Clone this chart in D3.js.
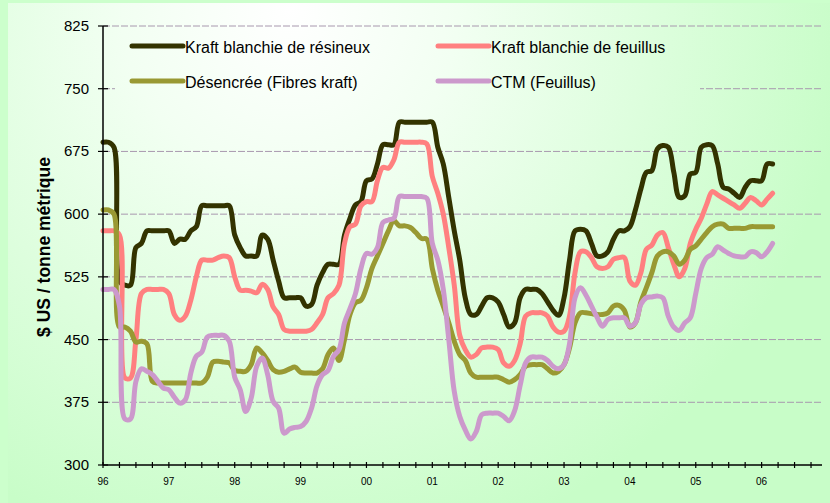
<!DOCTYPE html>
<html>
<head>
<meta charset="utf-8">
<script src="https://cdn.jsdelivr.net/npm/d3@7"></script>
<style>
  body { margin: 0; background: #ccffcc; }
  svg { display: block; font-family: "Liberation Sans", Arial, sans-serif; }
</style>
</head>
<body>
<svg width="830" height="503"></svg>
<script>
// monthly prices, Jan 1996 -> Mar 2006 ($ US / tonne)
const yearLabels = ["96", "97", "98", "99", "00", "01", "02", "03", "04", "05", "06"];
const yTicks = [300, 375, 450, 525, 600, 675, 750, 825];

const resineux = [
  686, 686, 680, 520, 515, 515, 560, 565, 580, 580,
  580, 580, 580, 565, 570, 570, 580, 585, 610, 610,
  610, 610, 610, 610, 575, 560, 550, 550, 550, 575,
  570, 545, 520, 500, 500, 500, 500, 490, 492, 515,
  530, 540, 540, 540, 575, 595, 611, 615, 640, 642,
  660, 683, 683, 683, 710, 710, 710, 710, 710, 710,
  710, 680, 660, 620, 580, 545, 500, 480, 480, 490,
  500, 500, 495, 480, 465, 470, 500, 510, 510, 510,
  505, 495, 485, 479, 500, 545, 580, 582, 580, 565,
  550, 550, 555, 570, 580, 580, 585, 605, 630, 650,
  652, 678, 682, 680, 650, 620, 622, 648, 650, 680,
  683, 682, 660, 632, 630, 625, 620, 632, 640, 640,
  640, 660, 660
];
const feuillus = [
  580, 580, 580, 575, 404, 404, 450, 505, 510, 510,
  510, 510, 505, 480, 473, 478, 497, 525, 545, 545,
  545, 548, 550, 548, 525, 509, 509, 508, 506, 516,
  510, 489, 480, 462, 460, 460, 460, 460, 462, 470,
  480, 500, 505, 515, 565, 585, 588, 610, 615, 615,
  640, 656, 655, 665, 686, 686, 686, 686, 686, 684,
  645, 625, 600, 560, 515, 455, 438, 429, 432, 440,
  441, 441, 438, 422, 418, 425, 445, 478, 482, 482,
  482, 478, 465, 459, 460, 478, 530, 555, 555, 548,
  537, 535, 537, 546, 548, 548, 520, 515, 530, 558,
  563, 575, 578, 560, 540, 525, 535, 565, 582, 595,
  612, 627, 623, 619, 615, 611, 607, 613, 620, 616,
  611, 618, 625
];
const desencree = [
  605, 605, 600, 465, 465, 460, 447, 448, 445, 400,
  398, 398, 398, 398, 398, 398, 398, 398, 398, 405,
  423, 424, 423, 422, 413, 412, 412, 420, 440, 434,
  425, 414, 411, 412, 415, 417, 411, 410, 410, 410,
  415, 432, 440, 425, 450, 480, 494, 497, 512, 535,
  550, 565, 580, 592, 586, 586, 584, 578, 571, 570,
  535, 509, 490, 470, 448, 432, 425, 410, 405, 405,
  405, 405, 405, 402, 399, 402, 408, 418, 420, 420,
  420, 415, 410, 412, 420, 440, 470, 482, 482, 481,
  480, 480, 482, 490, 491, 485, 465, 470, 495, 512,
  530, 550, 555, 555, 550, 540, 545, 558, 562, 570,
  578, 585, 588, 588, 583, 583, 583, 583, 585, 585,
  585, 585, 585
];
const ctm = [
  510, 510, 510, 490, 355, 355, 400, 415, 412, 408,
  400, 392, 390, 381, 374, 378, 410, 430, 435, 453,
  455, 455, 455, 448, 405, 390, 364, 380, 418, 428,
  408, 376, 368, 338, 343, 345, 346, 352, 368, 395,
  408, 413, 430, 438, 470, 487, 505, 535, 553, 552,
  560, 590, 593, 595, 621, 621, 621, 621, 621, 619,
  565, 545, 510, 450, 388, 358, 342, 331, 340, 360,
  362, 362, 362, 358, 353, 365, 395, 422, 429, 429,
  429, 425, 418, 415, 420, 445, 500, 512, 503, 490,
  477, 466, 474, 476, 476, 476, 466, 470, 492, 500,
  501, 502, 500, 478, 465, 461, 470, 476, 505, 535,
  548, 552, 561, 557, 553, 550, 549, 549, 555, 554,
  549, 555, 565
];

const seriesNames = ["Kraft blanchie de résineux", "Kraft blanchie de feuillus", "Désencrée (Fibres kraft)", "CTM (Feuillus)"];
const seriesColors = ["#333300", "#ff8080", "#999933", "#cc99cc"];
const seriesValues = [resineux, feuillus, desencree, ctm];

const svg = d3.select("svg");
const margin = { left: 103, top: 26, right: 822, bottom: 465 };

// background gradient
const defs = svg.append("defs");
const grad = defs.append("radialGradient")
  .attr("id", "bg")
  .attr("gradientUnits", "userSpaceOnUse")
  .attr("cx", 290).attr("cy", 10).attr("r", 560);
grad.append("stop").attr("offset", "0%").attr("stop-color", "#ffffff");
grad.append("stop").attr("offset", "30%").attr("stop-color", "#f2fff2");
grad.append("stop").attr("offset", "100%").attr("stop-color", "#c8fdc8");

svg.append("rect").attr("width", 830).attr("height", 503).attr("fill", "#ccffcc");
svg.append("rect")
  .attr("x", 8).attr("y", 3)
  .attr("width", 822).attr("height", 500)
  .attr("fill", "url(#bg)");

const x = d3.scaleLinear().domain([0, 131]).range([margin.left, margin.right]);
const y = d3.scaleLinear().domain([300, 825]).range([margin.bottom, margin.top]);

// gridlines
svg.append("g")
  .selectAll("line")
  .data(yTicks.filter(d => d > 300))
  .join("line")
  .attr("x1", margin.left)
  .attr("x2", margin.right)
  .attr("y1", d => y(d))
  .attr("y2", d => y(d))
  .attr("stroke", "#a898ae")
  .attr("stroke-width", 1)
  .attr("stroke-dasharray", "7,2");

// legend box hides the gridline behind it
svg.append("rect")
  .attr("x", 115).attr("y", 33)
  .attr("width", 585).attr("height", 66)
  .attr("fill", "url(#bg)");

// series lines
const line = d3.line()
  .x((d, i) => x(i))
  .y(d => y(d))
  .curve(d3.curveCatmullRom.alpha(0.5));

svg.append("g")
  .selectAll("path")
  .data(seriesValues)
  .join("path")
  .attr("d", d => line(d))
  .attr("fill", "none")
  .attr("stroke", (d, i) => seriesColors[i])
  .attr("stroke-width", 5)
  .attr("stroke-linejoin", "round")
  .attr("stroke-linecap", "round");

// y axis
const yAxis = svg.append("g").attr("stroke", "#000");
yAxis.append("line")
  .attr("x1", margin.left).attr("x2", margin.left)
  .attr("y1", y(825)).attr("y2", y(300))
  .attr("stroke-width", 1.5);
yAxis.selectAll("line.tick")
  .data(yTicks)
  .join("line")
  .attr("class", "tick")
  .attr("x1", margin.left - 5).attr("x2", margin.left + 5)
  .attr("y1", d => y(d)).attr("y2", d => y(d))
  .attr("stroke-width", 1.2);
svg.append("g")
  .selectAll("text")
  .data(yTicks)
  .join("text")
  .attr("x", 89)
  .attr("y", d => y(d) + 5)
  .attr("text-anchor", "end")
  .attr("font-size", 15)
  .attr("fill", "#000")
  .text(d => d);

// x axis
const xAxis = svg.append("g").attr("stroke", "#000");
xAxis.append("line")
  .attr("x1", margin.left).attr("x2", margin.right)
  .attr("y1", margin.bottom).attr("y2", margin.bottom)
  .attr("stroke-width", 1.5);
xAxis.selectAll("line.tick")
  .data(d3.range(0, 130, 3))
  .join("line")
  .attr("class", "tick")
  .attr("x1", d => x(d)).attr("x2", d => x(d))
  .attr("y1", margin.bottom - 3).attr("y2", margin.bottom + 3)
  .attr("stroke-width", 1.2);
svg.append("g")
  .selectAll("text")
  .data(yearLabels)
  .join("text")
  .attr("x", (d, i) => x(i * 12))
  .attr("y", 485)
  .attr("text-anchor", "middle")
  .attr("font-size", 10)
  .attr("fill", "#000")
  .text(d => d);

// y axis title
svg.append("text")
  .attr("transform", "translate(50,247) rotate(-90)")
  .attr("text-anchor", "middle")
  .attr("font-size", 17.5)
  .attr("font-weight", "bold")
  .attr("fill", "#000")
  .text("$ US / tonne métrique");

// legend, two columns
const legendPos = [[132, 46], [438, 46], [132, 81], [438, 81]];
const legend = svg.append("g")
  .selectAll("g")
  .data(seriesNames)
  .join("g")
  .attr("transform", (d, i) => "translate(" + legendPos[i][0] + "," + legendPos[i][1] + ")");
legend.append("line")
  .attr("x1", 0).attr("x2", 51)
  .attr("y1", 0).attr("y2", 0)
  .attr("stroke", (d, i) => seriesColors[i])
  .attr("stroke-width", 5)
  .attr("stroke-linecap", "round");
legend.append("text")
  .attr("x", 53)
  .attr("y", 7)
  .attr("font-size", 16)
  .attr("fill", "#000")
  .text(d => d);
</script>
</body>
</html>
